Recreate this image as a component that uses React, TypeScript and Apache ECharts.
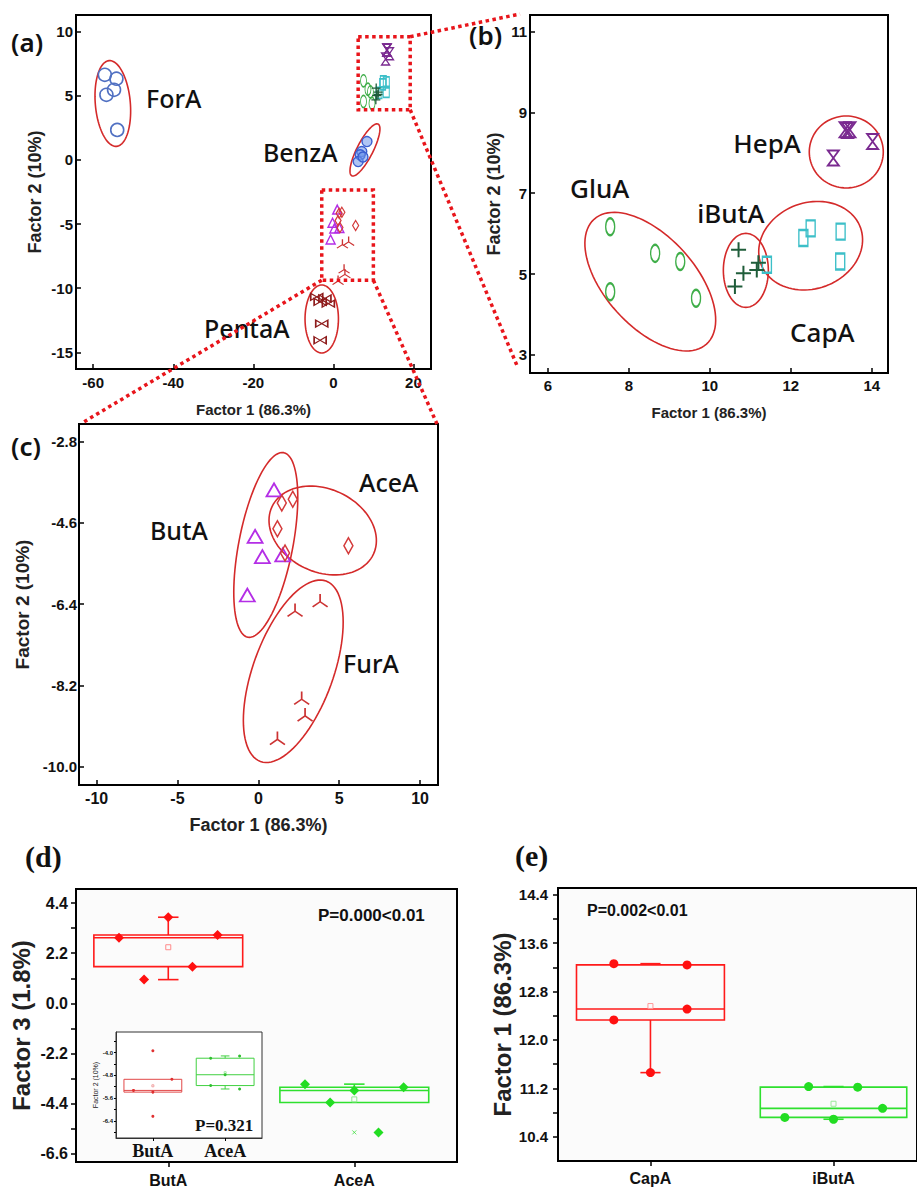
import React, { useEffect, useRef } from "react";
import * as echarts from "echarts";

// ---------- (a)-(c) PCA scores: [Factor 1, Factor 2] ----------
const forA = [[-57.1, 6.64], [-54.2, 6.33], [-54.8, 5.47], [-56.7, 5.08], [-54.0, 2.34]];
const benzA = [[8.4, 1.43], [7.1, 0.65], [6.7, 0.4], [6.2, -0.13], [7.4, 0.23]];
const pentaA = [[-4.15, -10.68], [-2.1, -10.8], [-1.25, -11.2], [-3.3, -11.07], [-2.9, -12.76], [-3.3, -14.06]];
const gluA = [[7.54, 6.17], [8.65, 5.51], [9.27, 5.31], [7.54, 4.56], [9.66, 4.4]];
const iButA = [[10.71, 5.6], [10.83, 5.02], [11.16, 5.1], [10.62, 4.69], [11.2, 5.28]];
const capA = [[12.31, 5.89], [12.49, 6.13], [13.23, 6.05], [13.22, 5.31], [11.41, 5.23]];
const hepA = [[13.05, 7.87], [13.34, 8.57], [13.46, 8.57], [14.02, 8.28], [13.4, 8.55]];
const butA = [[0.97, -3.87], [-0.2, -4.9], [0.25, -5.35], [1.51, -5.31], [-0.68, -6.2]];
const aceA = [[1.45, -4.16], [2.13, -4.08], [1.18, -4.73], [1.65, -5.27], [5.57, -5.11]];
const furA = [[2.27, -6.53], [3.82, -6.32], [2.68, -8.48], [2.89, -8.85], [1.18, -9.37]];

// group ellipses: [centre F1, centre F2, semi-axis rx (px), semi-axis ry (px), rotation deg]
const ellipsesA = [[-55.1, 4.4, 17.5, 43, 5], [7.9, 0.78, 29, 8, 63], [-2.9, -12.4, 16.7, 34, 0]];
const ellipsesB = [[8.53, 4.81, 84, 45, -48], [10.89, 5.09, 22.5, 37, 0], [12.49, 5.7, 53, 43, 20], [13.37, 8.02, 37, 36, 0]];
const ellipsesC = [[0.46, -5.09, 94, 27, 79], [3.98, -4.77, 56, 41.5, -25], [2.16, -7.89, 96, 40, 70]];

// zoom windows drawn in (a): [xmin, ymin, xmax, ymax]
const zoomBoxesA = [[6.2, 3.91, 19.2, 9.61], [-2.9, -9.375, 10.0, -2.34]];

// group names placed at [F1, F2]
const labelsA = [{ name: "ForA", at: [-46.8, 4.84] }, { name: "BenzA", at: [-17.6, 0.62] }, { name: "PentaA", at: [-32.3, -13.1] }];
const labelsB = [{ name: "HepA", at: [10.58, 8.25] }, { name: "GluA", at: [6.55, 7.13] }, { name: "iButA", at: [9.69, 6.51] }, { name: "CapA", at: [11.98, 3.57] }];
const labelsC = [{ name: "AceA", at: [6.23, -3.69] }, { name: "ButA", at: [-6.7, -4.76] }, { name: "FurA", at: [5.24, -7.7] }];

// tick values
const ticksAX = [-60, -40, -20, 0, 20];
const ticksAY = [-15, -10, -5, 0, 5, 10];
const ticksBX = [6, 8, 10, 12, 14];
const ticksBY = [3, 5, 7, 9, 11];
const ticksCX = [-10, -5, 0, 5, 10];
const ticksCY = [-10.0, -8.2, -6.4, -4.6, -2.8];
const ticksDY = [-6.6, -4.4, -2.2, 0, 2.2, 4.4];
const minorDY = [-6.6, -5.5, -4.4, -3.3, -2.2, -1.1, 0, 1.1, 2.2, 3.3, 4.4];
const ticksInY = [-6.4, -5.6, -4.8, -4.0];
const minorInY = [-6.8, -6.4, -6.0, -5.6, -5.2, -4.8, -4.4, -4.0, -3.6];
const ticksEY = [10.4, 11.2, 12.0, 12.8, 13.6, 14.4];
const minorEY = [10.4, 10.8, 11.2, 11.6, 12.0, 12.4, 12.8, 13.2, 13.6, 14.0, 14.4];

// ---------- (d) Factor 3 ----------
const catsD = ["ButA", "AceA"];
const dButA = [2.88, 1.04, 3.78, 1.61, 3.0];
const dAceA = [-3.55, -4.36, -3.83, -5.67, -3.69];
const dJitter = [-0.265, -0.13, 0, 0.13, 0.265];
// inset: Factor 2
const inButA = [-5.33, -3.94, -5.39, -6.24, -4.94];
const inButJitter = [-0.268, 0, 0, 0, 0.263];
const inAceA = [-4.2, -5.16, -4.78, -4.12, -5.28];
const inAceJitter = [-0.2, -0.2, 0, 0.2, 0.2];
// ---------- (e) Factor 1 ----------
const catsE = ["CapA", "iButA"];
const eCapA = [13.26, 12.33, 11.46, 13.24, 12.51];
const eCapJitter = [-0.2, -0.2, 0, 0.2, 0.2];
const eIButA = [10.72, 11.23, 10.69, 11.22, 10.87];
const eIButJitter = [-0.266, -0.136, 0, 0.132, 0.268];

const SANS = '"Liberation Sans", Arial, sans-serif';
const SERIF = '"Liberation Serif", "Times New Roman", serif';
const LABEL_FONT = '"Noto Sans", "Open Sans", sans-serif';

const symBowtie = "path://M0,0L20,12L20,0L0,12Z";
const symHourglass = "path://M0,0L12,0L0,20L12,20Z";
const symPlus = "path://M6,0L6,12M0,6L12,6";
const symFur = "path://M10,0L10,9M10,9L1,15M10,9L19,15";
const symX = "path://M0,0L10,10M10,0L0,10";

function stats(vals: number[]) {
  const s = [...vals].sort((a, b) => a - b);
  const q = (p: number) => {
    const idx = (s.length - 1) * p;
    const lo = Math.floor(idx);
    const hi = Math.ceil(idx);
    return s[lo] + (s[hi] - s[lo]) * (idx - lo);
  };
  const q1 = q(0.25), med = q(0.5), q3 = q(0.75);
  const iqr = q3 - q1;
  const inside = s.filter((v) => v >= q1 - 1.5 * iqr && v <= q3 + 1.5 * iqr);
  const lo = Math.min(...inside);
  const hi = Math.max(...inside);
  const mean = vals.reduce((a, b) => a + b, 0) / vals.length;
  const outliers = s.filter((v) => v < q1 - 1.5 * iqr || v > q3 + 1.5 * iqr);
  return { q1, med, q3, lo, hi, mean, outliers };
}

function axis(grid: number, min: number, max: number, labels: number[], ticks: number[], o: any) {
  return {
    type: "value",
    gridIndex: grid,
    min,
    max,
    axisLine: { show: true, onZero: false, lineStyle: { color: "#000", width: 2 } },
    axisTick: { show: true, inside: !!o.inside, length: o.tickLen ?? 5, customValues: ticks, lineStyle: { color: "#000", width: o.tickW ?? 1.5 } },
    axisLabel: {
      show: true,
      customValues: labels,
      margin: o.margin ?? 4,
      fontSize: o.fs ?? 14,
      fontWeight: "bold",
      fontFamily: o.family ?? SANS,
      color: "#111",
      formatter: o.fmt ?? ((v: number) => String(v)),
    },
    splitLine: { show: false },
    name: o.name ?? "",
    nameLocation: "middle",
    nameGap: o.gap ?? 30,
    nameTextStyle: { fontSize: o.nameFs ?? 15, fontWeight: "bold", fontFamily: SANS, color: "#222" },
  };
}

function scatter(grid: number, data: number[][], symbol: string, size: any, color: string, o: any = {}) {
  return {
    type: "scatter",
    xAxisIndex: grid,
    yAxisIndex: grid,
    data,
    symbol,
    symbolSize: size,
    z: o.z ?? 4,
    itemStyle: {
      color: o.fill ?? "transparent",
      borderColor: o.stroke ?? color,
      borderWidth: o.lw ?? 1.5,
      opacity: 1,
    },
    emphasis: { disabled: true },
  };
}

function ellipseSeries(grid: number, data: number[][]) {
  return {
    type: "custom",
    xAxisIndex: grid,
    yAxisIndex: grid,
    data,
    z: 3,
    silent: true,
    renderItem: (params: any, api: any) => {
      const c = api.coord([api.value(0), api.value(1)]);
      const rx = api.value(2), ry = api.value(3);
      const th = (api.value(4) * Math.PI) / 180;
      const pts: number[][] = [];
      for (let i = 0; i < 96; i++) {
        const t = (i / 96) * Math.PI * 2;
        const u = rx * Math.cos(t), v = ry * Math.sin(t);
        pts.push([c[0] + u * Math.cos(th) + v * Math.sin(th), c[1] - u * Math.sin(th) + v * Math.cos(th)]);
      }
      return { type: "polygon", shape: { points: pts }, style: { fill: "none", stroke: "#d42a2a", lineWidth: 1.6 } };
    },
  };
}

function labelSeries(grid: number, labels: { name: string; at: number[] }[], fs: number) {
  return {
    type: "custom",
    xAxisIndex: grid,
    yAxisIndex: grid,
    data: labels.map((l) => l.at),
    z: 5,
    silent: true,
    renderItem: (params: any, api: any) => {
      const c = api.coord([api.value(0), api.value(1)]);
      return {
        type: "text",
        x: c[0],
        y: c[1],
        style: {
          text: labels[params.dataIndex].name,
          fill: "#111",
          fontSize: fs,
          fontFamily: LABEL_FONT,
          fontWeight: 500,
          align: "left",
          verticalAlign: "middle",
          textAlign: "left",
          textVerticalAlign: "middle",
        },
      };
    },
  };
}

function zoomBoxSeries(grid: number, data: number[][]) {
  return {
    type: "custom",
    xAxisIndex: grid,
    yAxisIndex: grid,
    data,
    z: 6,
    silent: true,
    renderItem: (params: any, api: any) => {
      const p1 = api.coord([api.value(0), api.value(3)]);
      const p2 = api.coord([api.value(2), api.value(1)]);
      return {
        type: "rect",
        shape: { x: p1[0], y: p1[1], width: p2[0] - p1[0], height: p2[1] - p1[1] },
        style: { fill: "none", stroke: "#e8151b", lineWidth: 3.5, lineDash: [3.5, 3.5] },
      };
    },
  };
}

function boxSeries(grid: number, center: number, vals: number[], color: string, o: any) {
  const s = stats(vals);
  return {
    type: "custom",
    xAxisIndex: grid,
    yAxisIndex: grid,
    z: 3,
    silent: true,
    encode: { x: 0, y: [1, 2, 3, 4, 5] },
    data: [[center, s.lo, s.q1, s.med, s.q3, s.hi, s.mean]],
    renderItem: (params: any, api: any) => {
      const x = api.value(0);
      const hw = api.size([o.hw, 0])[0];
      const cw = api.size([o.cap, 0])[0];
      const P = (v: number) => api.coord([x, v]);
      const plo = P(api.value(1)), pq1 = P(api.value(2)), pm = P(api.value(3)), pq3 = P(api.value(4)), phi = P(api.value(5)), pmean = P(api.value(6));
      const cx = pq1[0];
      const st = { stroke: color, lineWidth: o.lw, fill: "none" };
      const ch: any[] = [
        { type: "rect", shape: { x: cx - hw, y: pq3[1], width: 2 * hw, height: pq1[1] - pq3[1] }, style: st },
        { type: "line", shape: { x1: cx - hw, y1: pm[1], x2: cx + hw, y2: pm[1] }, style: st },
      ];
      if (api.value(5) > api.value(4)) {
        ch.push({ type: "line", shape: { x1: cx, y1: pq3[1], x2: cx, y2: phi[1] }, style: st });
        ch.push({ type: "line", shape: { x1: cx - cw, y1: phi[1], x2: cx + cw, y2: phi[1] }, style: st });
      }
      if (api.value(1) < api.value(2)) {
        ch.push({ type: "line", shape: { x1: cx, y1: pq1[1], x2: cx, y2: plo[1] }, style: st });
        ch.push({ type: "line", shape: { x1: cx - cw, y1: plo[1], x2: cx + cw, y2: plo[1] }, style: st });
      }
      const ms = o.meanSize;
      ch.push({ type: "rect", shape: { x: cx - ms / 2, y: pmean[1] - ms / 2, width: ms, height: ms }, style: { stroke: o.meanColor, fill: "none", lineWidth: 1 } });
      return { type: "group", children: ch };
    },
  };
}

function pointsSeries(grid: number, center: number, vals: number[], jit: number[], color: string, symbol: string, size: number) {
  return {
    type: "scatter",
    xAxisIndex: grid,
    yAxisIndex: grid,
    z: 4,
    symbol,
    symbolSize: size,
    data: vals.map((v, i) => [center + jit[i], v]),
    itemStyle: { color, opacity: 1 },
    emphasis: { disabled: true },
  };
}

function outlierSeries(grid: number, center: number, vals: number[], color: string, size: number) {
  const s = stats(vals);
  return {
    type: "scatter",
    xAxisIndex: grid,
    yAxisIndex: grid,
    z: 4,
    symbol: symX,
    symbolSize: size,
    data: s.outliers.map((v) => [center, v]),
    itemStyle: { color: "transparent", borderColor: color, borderWidth: 1 },
    emphasis: { disabled: true },
  };
}

const C = {
  forA: "#5070c2",
  benzA: "#3b5fd0",
  pentaA: "#8e1c1c",
  gluA: "#3fae49",
  iButA: "#1f5d3a",
  capA: "#3cbfc8",
  hepA: "#7a2a90",
  butA: "#b42ee6",
  aceA: "#d43a3a",
  furA: "#cc3333",
};

function buildOption() {
  const grids = [
    { left: 76, top: 15, width: 355, height: 354, backgroundColor: "#fff" },
    { left: 530, top: 15, width: 358, height: 358, backgroundColor: "#fff" },
    { left: 79, top: 424, width: 359, height: 361, backgroundColor: "#fff" },
    { left: 76, top: 889, width: 381, height: 273, backgroundColor: "#fbfbfb" },
    { left: 116, top: 1032, width: 146, height: 106, backgroundColor: "#fff", borderColor: "#333", borderWidth: 1 },
    { left: 558, top: 888, width: 362, height: 273, backgroundColor: "#fbfbfb" },
  ].map((g: any) => ({ show: true, borderColor: "#000", borderWidth: 2, containLabel: false, ...g }));

  const f1 = (v: number) => v.toFixed(1);
  const xAxis = [
    axis(0, -64.3, 24.4, ticksAX, ticksAX, { inside: true, margin: 6, fs: 15, name: "Factor 1 (86.3%)", gap: 33, nameFs: 15 }),
    axis(1, 5.56, 14.4, ticksBX, ticksBX, { inside: true, margin: 5, fs: 15, name: "Factor 1 (86.3%)", gap: 32, nameFs: 15 }),
    axis(2, -11.09, 11.11, ticksCX, ticksCX, { inside: true, margin: 5, fs: 16, name: "Factor 1 (86.3%)", gap: 31, nameFs: 18 }),
    axis(3, 0.504, 2.552, [1, 2], [1, 2], { margin: 10, fs: 16, fmt: (v: number) => catsD[Math.round(v) - 1] ?? "" }),
    {
      ...axis(4, 0.49, 2.51, [1, 2], [1, 2], { margin: 4, fs: 18, family: SERIF, tickLen: 3, tickW: 1, fmt: (v: number) => catsD[Math.round(v) - 1] ?? "" }),
      axisLine: { show: true, onZero: false, lineStyle: { color: "#333", width: 1 } },
    },
    axis(5, 0.495, 2.456, [1, 2], [1, 2], { margin: 9, fs: 16, fmt: (v: number) => catsE[Math.round(v) - 1] ?? "" }),
  ];
  const yAxis = [
    axis(0, -16.3, 11.3, ticksAY, ticksAY, { inside: true, margin: 3, fs: 15, name: "Factor 2 (10%)", gap: 32, nameFs: 18 }),
    axis(1, 2.55, 11.41, ticksBY, ticksBY, { inside: true, margin: 3, fs: 15, name: "Factor 2 (10%)", gap: 27, nameFs: 18 }),
    axis(2, -10.41, -2.41, ticksCY, ticksCY, { inside: true, margin: 2, fs: 15, fmt: f1, name: "Factor 2 (10%)", gap: 47, nameFs: 19 }),
    axis(3, -6.97, 5.02, ticksDY, minorDY, { margin: 8, fs: 16, fmt: f1, name: "Factor 3 (1.8%)", gap: 43, nameFs: 24 }),
    {
      ...axis(4, -7.0, -3.28, ticksInY, minorInY, { margin: 3, fs: 6, tickLen: 2, tickW: 1, fmt: f1, name: "Factor 2 (10%)", gap: 16, nameFs: 7 }),
      axisLine: { show: true, onZero: false, lineStyle: { color: "#333", width: 1 } },
    },
    axis(5, 10.0, 14.51, ticksEY, minorEY, { margin: 10, fs: 15, fmt: f1, name: "Factor 1 (86.3%)", gap: 43, nameFs: 24 }),
  ];
  (yAxis[4] as any).nameTextStyle = { fontSize: 7, fontFamily: SANS, color: "#222" };

  const series: any[] = [
    // (a)
    ellipseSeries(0, ellipsesA),
    zoomBoxSeries(0, zoomBoxesA),
    labelSeries(0, labelsA, 25),
    scatter(0, forA, "circle", 13, C.forA, { lw: 1.6 }),
    scatter(0, benzA, "circle", 10, C.benzA, { fill: "rgba(110,150,235,0.55)", lw: 1.4 }),
    scatter(0, pentaA, symBowtie, [12, 7], C.pentaA, { lw: 1.3 }),
    scatter(0, gluA, "circle", [6, 12], C.gluA, { lw: 1.2 }),
    scatter(0, capA, "rect", [6, 11], C.capA, { lw: 1.3 }),
    scatter(0, iButA, symPlus, 9, C.iButA, { lw: 1.3 }),
    scatter(0, hepA, symHourglass, [8, 12], C.hepA, { lw: 1.3 }),
    scatter(0, butA, "triangle", [9, 9], C.butA, { lw: 1.4 }),
    scatter(0, aceA, "diamond", [6, 10], C.aceA, { lw: 1.3 }),
    scatter(0, furA, symFur, [11, 9], C.furA, { lw: 1.2 }),
    // (b)
    ellipseSeries(1, ellipsesB),
    labelSeries(1, labelsB, 26),
    scatter(1, gluA, "circle", [9, 17], C.gluA, { lw: 1.8 }),
    scatter(1, capA, "rect", [9, 16], C.capA, { lw: 1.8 }),
    scatter(1, iButA, symPlus, 15, C.iButA, { lw: 2 }),
    scatter(1, hepA, symHourglass, [11, 15], C.hepA, { lw: 1.8 }),
    // (c)
    ellipseSeries(2, ellipsesC),
    labelSeries(2, labelsC, 25),
    scatter(2, butA, "triangle", [15, 13], C.butA, { lw: 1.8 }),
    scatter(2, aceA, "diamond", [9, 16], C.aceA, { lw: 1.6 }),
    scatter(2, furA, symFur, [15, 13], C.furA, { lw: 1.6 }),
    // (d)
    boxSeries(3, 1, dButA, "#ff1a1a", { hw: 0.4, cap: 0.055, lw: 1.6, meanColor: "#ff8a8a", meanSize: 5 }),
    boxSeries(3, 2, dAceA, "#2ee02e", { hw: 0.4, cap: 0.055, lw: 1.6, meanColor: "#8fe88f", meanSize: 5 }),
    pointsSeries(3, 1, dButA, dJitter, "#ff1010", "diamond", 10),
    pointsSeries(3, 2, dAceA, dJitter, "#22dd22", "diamond", 10),
    outlierSeries(3, 1, dButA, "#ff6060", 4),
    outlierSeries(3, 2, dAceA, "#40e040", 4),
    // inset
    boxSeries(4, 1, inButA, "#e24848", { hw: 0.4, cap: 0.06, lw: 1, meanColor: "#f0a0a0", meanSize: 2 }),
    boxSeries(4, 2, inAceA, "#40d040", { hw: 0.4, cap: 0.06, lw: 1, meanColor: "#a0e8a0", meanSize: 2 }),
    pointsSeries(4, 1, inButA, inButJitter, "#e03030", "circle", 3),
    pointsSeries(4, 2, inAceA, inAceJitter, "#30c030", "circle", 3),
    // (e)
    boxSeries(5, 1, eCapA, "#ff1a1a", { hw: 0.404, cap: 0.055, lw: 1.6, meanColor: "#ff9a9a", meanSize: 5 }),
    boxSeries(5, 2, eIButA, "#2ee02e", { hw: 0.4, cap: 0.055, lw: 1.6, meanColor: "#9ae89a", meanSize: 5 }),
    pointsSeries(5, 1, eCapA, eCapJitter, "#ff1010", "circle", 9),
    pointsSeries(5, 2, eIButA, eIButJitter, "#22dd22", "circle", 9),
    outlierSeries(5, 1, eCapA, "#ff6060", 4),
    outlierSeries(5, 2, eIButA, "#40e040", 4),
  ];

  return {
    animation: false,
    backgroundColor: "#fff",
    grid: grids,
    xAxis,
    yAxis,
    series,
  };
}

function textEl(text: string, x: number, y: number, fontSize: number, family: string, weight: any = "bold") {
  return {
    type: "text",
    x,
    y,
    z: 50,
    silent: true,
    style: {
      text,
      fill: "#111",
      fontSize,
      fontFamily: family,
      fontWeight: weight,
      textAlign: "left",
      textVerticalAlign: "middle",
      align: "left",
      verticalAlign: "middle",
    },
  };
}

export default function App() {
  const ref = useRef<HTMLDivElement>(null);
  useEffect(() => {
    if (!ref.current) return;
    const chart = echarts.init(ref.current, null, { renderer: "svg" });
    chart.setOption(buildOption());

    const pA = (x: number, y: number) => chart.convertToPixel({ gridIndex: 0 }, [x, y]) as number[];
    const b1 = zoomBoxesA[0];
    const b2 = zoomBoxesA[1];
    const connectors: [number[], number[]][] = [
      [pA(b1[2], b1[3]), [520, 14]],
      [pA(b1[2], b1[1]), [518, 368]],
      [pA(b2[0], b2[1]), [82, 423]],
      [pA(b2[2], b2[1]), [437, 424]],
    ];
    const graphics: any[] = [
      textEl("(a)", 11, 42, 26, LABEL_FONT, 600),
      textEl("(b)", 469, 35, 26, LABEL_FONT, 600),
      textEl("(c)", 11, 446, 26, LABEL_FONT, 600),
      textEl("(d)", 25, 856, 30, SERIF),
      textEl("(e)", 515, 855, 30, SERIF),
      textEl("P=0.000<0.01", 318, 915, 17, SANS),
      textEl("P=0.002<0.01", 587, 910, 16, SANS),
      textEl("P=0.321", 195, 1125, 17, SERIF),
      ...connectors.map(([s, e]) => ({
        type: "line",
        z: 60,
        silent: true,
        shape: { x1: s[0], y1: s[1], x2: e[0], y2: e[1] },
        style: { stroke: "#e8151b", lineWidth: 3.5, lineDash: [3.5, 3.5] },
      })),
    ];
    chart.setOption({ graphic: graphics });
    return () => chart.dispose();
  }, []);
  return <div ref={ref} style={{ position: "absolute", left: 0, top: 0, width: 917, height: 1189, background: "#fff" }} />;
}
